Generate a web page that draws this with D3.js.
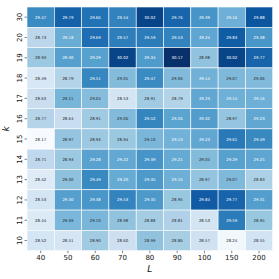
<!DOCTYPE html>
<html><head><meta charset="utf-8">
<script src="https://cdn.jsdelivr.net/npm/d3@7"></script>
<style>body{margin:0;background:#fff}svg{display:block}</style>
</head><body>
<script>
const Ls = ["40","50","60","70","80","90","100","150","200"];
const ks = ["30","20","19","18","17","16","15","14","13","12","11","10"];
const row30 = [29.47,29.79,29.66,29.54,30.02,29.76,29.39,29.16,29.88];
const row20 = [28.73,29.18,29.69,29.57,29.59,29.53,29.24,29.83,29.38];
const row19 = [28.93,29.30,29.29,30.02,29.34,30.17,28.98,30.02,29.77];
const row18 = [28.49,28.79,29.51,29.05,29.47,29.06,29.14,29.07,29.06];
const row17 = [28.63,29.11,29.04,28.53,28.91,28.79,29.23,29.15,29.16];
const row16 = [28.77,28.64,28.91,29.06,29.52,29.26,29.32,28.97,29.23];
const row15 = [28.17,28.97,28.93,28.94,29.10,29.13,29.23,29.61,29.49];
const row14 = [28.71,28.93,29.28,29.22,29.39,29.21,29.05,29.29,29.25];
const row13 = [28.42,29.00,29.49,29.20,29.35,29.16,28.97,29.07,28.83];
const row12 = [28.53,29.30,29.38,29.53,29.35,28.95,29.84,29.77,29.31];
const row11 = [28.44,29.09,29.10,28.98,28.88,28.81,28.53,29.59,28.95];
const row10 = [28.52,28.51,28.90,28.60,28.99,28.86,28.57,28.24,28.55];
const rows = [row30,row20,row19,row18,row17,row16,row15,row14,row13,row12,row11,row10];

const W=279,H=279;
const m={l:27,r:6.3,t:7,b:28.3};
const svg=d3.select("body").append("svg").attr("width",W).attr("height",H);
const x=d3.scaleBand().domain(Ls).range([m.l,W-m.r]);
const y=d3.scaleBand().domain(ks).range([m.t,H-m.b]);
const cells=[];
rows.forEach((r,i)=>r.forEach((v,j)=>cells.push({k:ks[i],L:Ls[j],v})));
const all=cells.map(d=>d.v);
const vmin=d3.min(all),vmax=d3.max(all);
const blues=["#f7fbff","#deebf7","#c6dbef","#9ecae1","#6baed6","#4292c6","#2171b5","#08519c","#08306b"];
const color=d3.scaleLinear().domain(blues.map((_,i)=>vmin+(vmax-vmin)*i/8)).range(blues).interpolate(d3.interpolateRgb);
function lum(c){const o=d3.rgb(c);const f=u=>{u/=255;return u<=0.03928?u/12.92:Math.pow((u+0.055)/1.055,2.4)};return 0.2126*f(o.r)+0.7152*f(o.g)+0.0722*f(o.b);}
const g=svg.append("g");
g.selectAll("rect").data(cells).join("rect")
 .attr("x",d=>x(d.L)).attr("y",d=>y(d.k)).attr("width",x.bandwidth()).attr("height",y.bandwidth())
 .attr("fill",d=>color(d.v)).attr("stroke","#fff").attr("stroke-width",0.6);
g.selectAll("text").data(cells).join("text")
 .attr("x",d=>x(d.L)+x.bandwidth()/2).attr("y",d=>y(d.k)+y.bandwidth()/2)
 .attr("text-anchor","middle").attr("dominant-baseline","central")
 .attr("font-family","DejaVu Sans").attr("font-size",3.9)
 .attr("fill",d=>lum(color(d.v))>0.408?"#262626":"#fff")
 .text(d=>d.v.toFixed(2));
const xa=svg.append("g").attr("transform",`translate(0,${H-m.b})`).call(d3.axisBottom(x).tickSize(2.5).tickPadding(1.5));
xa.select(".domain").remove();
xa.selectAll("line").attr("stroke","#333").attr("stroke-width",0.6);
xa.selectAll("text").attr("font-family","DejaVu Sans").attr("font-size",7).attr("fill","#111");
const ya=svg.append("g").attr("transform",`translate(${m.l},0)`).call(d3.axisLeft(y).tickSize(2.5).tickPadding(1.5));
ya.select(".domain").remove();
ya.selectAll("line").attr("stroke","#333").attr("stroke-width",0.6);
ya.selectAll(".tick text").attr("font-family","DejaVu Sans").attr("font-size",7).attr("fill","#111")
 .attr("text-anchor","middle").attr("dy",null).attr("dominant-baseline","central")
 .attr("x",-7.5).attr("y",0).attr("transform","rotate(-90,-7.5,0)");
svg.append("text").attr("x",(m.l+W-m.r)/2).attr("y",H-7).attr("text-anchor","middle")
 .attr("font-family","DejaVu Sans").attr("font-style","italic").attr("font-size",9).attr("fill","#111").text("L");
svg.append("text").attr("transform",`translate(9,${(m.t+H-m.b)/2}) rotate(-90)`).attr("text-anchor","middle")
 .attr("font-family","DejaVu Sans").attr("font-style","italic").attr("font-size",9).attr("fill","#111").text("k");
</script>
</body></html>
